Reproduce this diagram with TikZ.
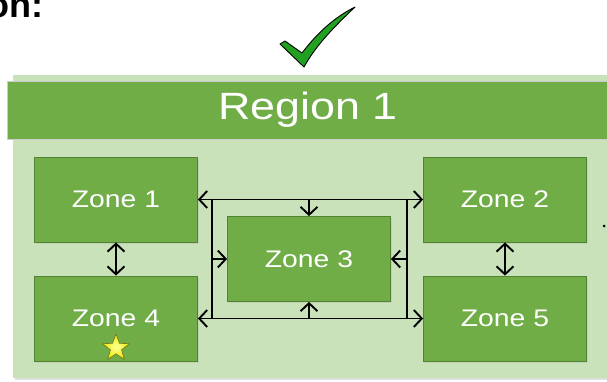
\documentclass[tikz,border=0pt]{standalone}
\usepackage{fontspec}
\setmainfont{Liberation Sans}[FakeStretch=1.18]
\newfontfamily\headfont{Liberation Sans}
\usepackage{tikz}
\usetikzlibrary{calc}
\usetikzlibrary{arrows.meta}
\usetikzlibrary{shapes.geometric}
\usetikzlibrary{shadows}

\definecolor{zonegreen}{HTML}{70AD47}
\definecolor{zoneedge}{HTML}{548235}
\definecolor{paleback}{HTML}{C9E2BA}
\definecolor{tickgreen}{HTML}{22A022}

\begin{document}
\begin{tikzpicture}[x=1pt,y=-1pt,>={Straight Barb[length=8pt,width=17pt]},
    zone/.style={draw=zoneedge,fill=zonegreen,line width=0.8pt,minimum width=163pt,minimum height=85pt,
        text=white,font=\fontsize{24}{28}\selectfont,
        drop shadow={opacity=0.15,shadow xshift=1.5pt,shadow yshift=-1.5pt}},
    link/.style={line width=1.9pt}]
            \useasboundingbox (0,0) rectangle (607,381);
            \clip (0,0) rectangle (607,381);
            % background of the region and its title bar
            \fill[gray!25] (15,77) rectangle (609,380);
            \fill[paleback] (13,75) rectangle (607,378);
            \node[draw=gray!40,fill=zonegreen,line width=0.8pt,minimum width=602pt,minimum height=58pt,inner sep=0pt,
                text=white,font=\fontsize{38}{44}\selectfont] (head) at (308,110) {Region 1};
            % cut-off heading text
            \node[anchor=base east,inner sep=0pt,font=\headfont\fontsize{36}{42}\selectfont\bfseries] (title) at (44,17) {on:};
            % check mark
            \draw[fill=tickgreen,line width=0.9pt,line join=round] (280,44) -- (285,41) -- (302,53)
                .. controls (318,32) and (335,17) .. (355,7)
                .. controls (336,25) and (316,45) .. (304,67) -- cycle;
            % zones
            \foreach \n/\x/\y in {1/116/199.5,2/505/199.5,3/309/259,4/116/318.5,5/505/318.5}
            {
                \node[zone] (z\n) at (\x,\y) {Zone \n};
            }
            \node[star,star points=5,star point ratio=2.4,minimum size=28pt,inner sep=0pt,draw=olive!80!black,
                line width=0.6pt,inner color=yellow!40!white,outer color=yellow!85!olive] (mark) at (116,348) {};
            % links
            \coordinate (lv) at ($(z1.east)+(14,0)$);
            \coordinate (rv) at ($(z2.west)+(-16,0)$);
            \draw[link,<->] (z1.east) -- (z2.west);
            \draw[link,<->] (z4.east) -- (z5.west);
            \draw[link] (lv) -- (lv |- z4.east);
            \draw[link] (rv) -- (rv |- z5.west);
            \draw[link,->] (z3.north |- z1.east) -- (z3.north);
            \draw[link,->] (z3.south |- z4.east) -- (z3.south);
            \draw[link,->] (lv |- z3.west) -- (z3.west);
            \draw[link,->] (rv |- z3.east) -- (z3.east);
            \draw[link,<->] (z1.south) -- (z4.north);
            \draw[link,<->] (z2.south) -- (z5.north);
            % stub at the right edge
            \coordinate (stub) at (604,226);
            \fill (stub) circle (1.5pt);
\end{tikzpicture}
\end{document}
